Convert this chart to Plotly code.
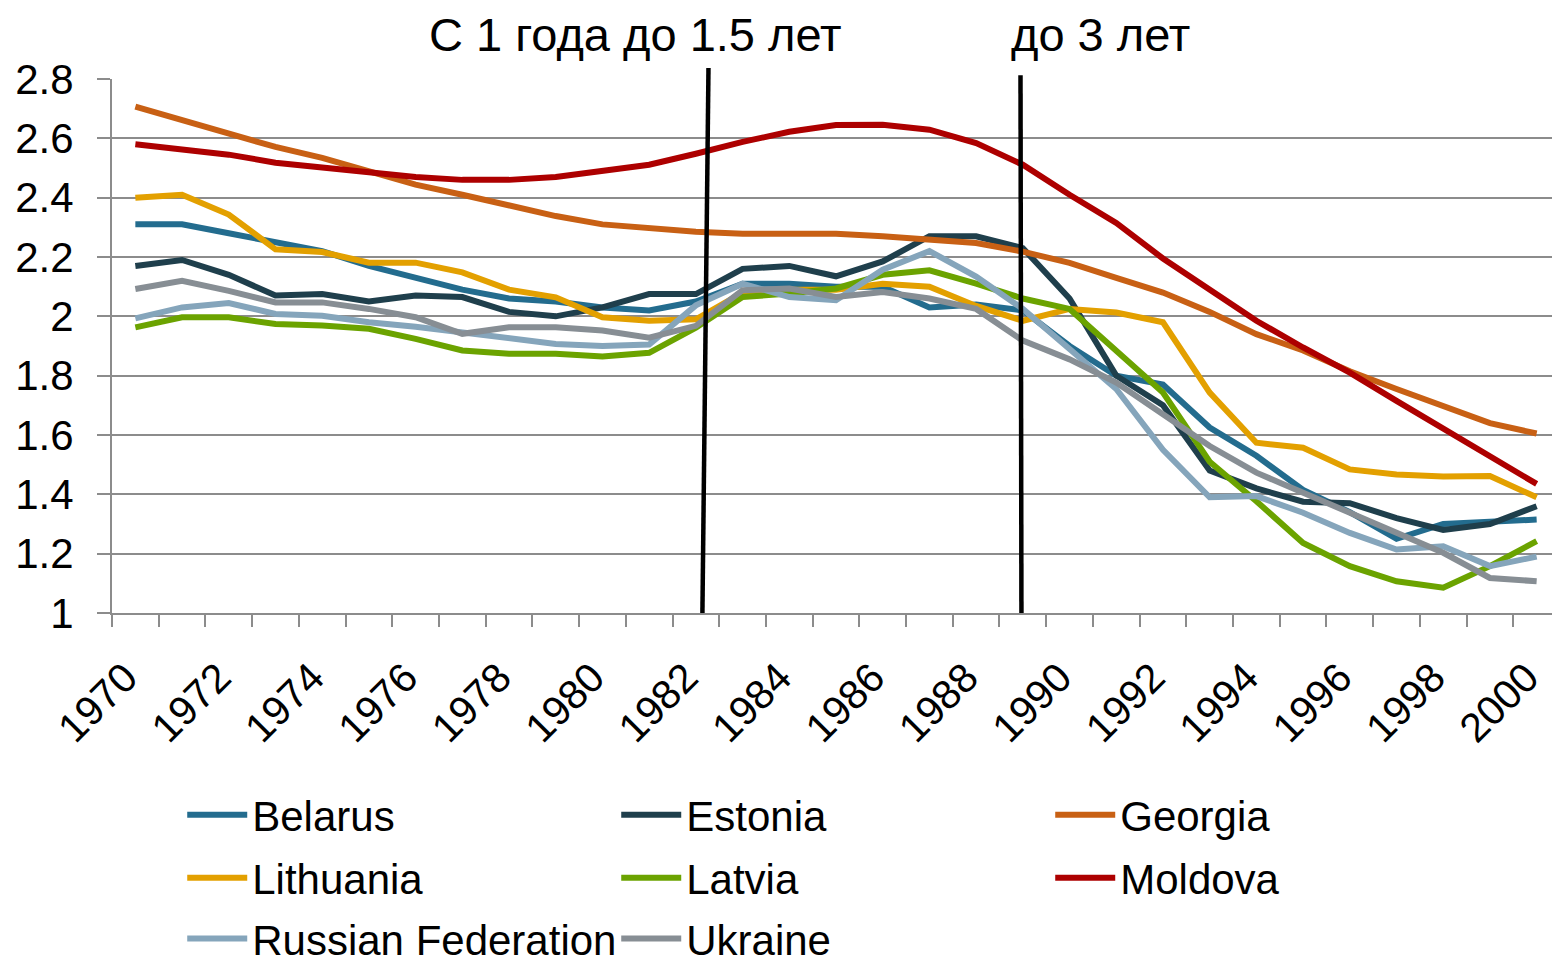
import plotly.graph_objects as go

years = list(range(1970, 2001))

belarus = [2.31, 2.31, 2.28, 2.25, 2.22, 2.17, 2.13, 2.09, 2.06, 2.05, 2.03, 2.02, 2.05, 2.11, 2.11, 2.10,
           2.10, 2.03, 2.04, 2.02, 1.90, 1.80, 1.77, 1.625, 1.53, 1.415, 1.34, 1.25, 1.30, 1.31, 1.315]
estonia = [2.17, 2.19, 2.14, 2.07, 2.075, 2.05, 2.07, 2.065, 2.015, 2.00, 2.03, 2.075, 2.075, 2.16, 2.17, 2.135,
           2.185, 2.27, 2.27, 2.23, 2.06, 1.80, 1.70, 1.48, 1.42, 1.375, 1.37, 1.32, 1.28, 1.30, 1.36]
georgia = [2.707, 2.66, 2.615, 2.571, 2.534, 2.489, 2.444, 2.41, 2.375, 2.338, 2.31, 2.297, 2.285, 2.278, 2.278, 2.278,
           2.27, 2.26, 2.247, 2.218, 2.18, 2.13, 2.08, 2.015, 1.94, 1.885, 1.815, 1.755, 1.70, 1.64, 1.605]
lithuania = [2.40, 2.41, 2.343, 2.226, 2.217, 2.181, 2.181, 2.148, 2.09, 2.064, 1.997, 1.985, 1.99, 2.08, 2.09, 2.09,
             2.11, 2.10, 2.035, 1.985, 2.025, 2.013, 1.98, 1.743, 1.574, 1.557, 1.484, 1.467, 1.46, 1.462, 1.39]
latvia = [1.963, 1.997, 1.997, 1.974, 1.969, 1.958, 1.924, 1.885, 1.874, 1.874, 1.865, 1.877, 1.962, 2.065, 2.077, 2.094,
          2.14, 2.155, 2.11, 2.06, 2.025, 1.884, 1.743, 1.51, 1.377, 1.236, 1.158, 1.107, 1.085, 1.158, 1.242]
moldova = [2.58, 2.564, 2.545, 2.518, 2.502, 2.485, 2.47, 2.46, 2.46, 2.47, 2.488, 2.511, 2.548, 2.588, 2.622, 2.645,
           2.646, 2.629, 2.584, 2.511, 2.41, 2.315, 2.195, 2.09, 1.985, 1.895, 1.81, 1.715, 1.62, 1.525, 1.435]
russia = [1.993, 2.03, 2.045, 2.008, 2.002, 1.98, 1.965, 1.946, 1.924, 1.907, 1.90, 1.905, 2.037, 2.11, 2.065, 2.054,
          2.157, 2.22, 2.134, 2.025, 1.89, 1.755, 1.55, 1.39, 1.394, 1.338, 1.27, 1.214, 1.225, 1.158, 1.19]
ukraine = [2.092, 2.12, 2.086, 2.047, 2.047, 2.025, 1.997, 1.941, 1.963, 1.963, 1.952, 1.928, 1.968, 2.088, 2.094, 2.065,
           2.082, 2.06, 2.025, 1.918, 1.855, 1.777, 1.67, 1.563, 1.473, 1.405, 1.338, 1.27, 1.203, 1.118, 1.107]

series_names = ["Belarus", "Estonia", "Georgia", "Lithuania", "Latvia", "Moldova", "Russian Federation", "Ukraine"]
series_values = [belarus, estonia, georgia, lithuania, latvia, moldova, russia, ukraine]
series_colors = ["#236C8E", "#1F3F4C", "#C86014", "#E3A000", "#6BA300", "#AD0000", "#85A5BB", "#878E94"]
series_legend = ["legend", "legend", "legend", "legend2", "legend2", "legend2", "legend3", "legend3"]

y_ticks = [1, 1.2, 1.4, 1.6, 1.8, 2, 2.2, 2.4, 2.6, 2.8]
y_ticktext = ["1", "1.2", "1.4", "1.6", "1.8", "2", "2.2", "2.4", "2.6", "2.8"]
x_ticks = years[::2]
y_min, y_max = 1.0, 2.8

# reference lines for policy changes (year position at top / bottom, value at top / bottom)
policy_x_top = [1982.27, 1988.95]
policy_x_bottom = [1982.14, 1988.97]
policy_y_top = [2.837, 2.813]
policy_y_bottom = [1.0, 1.0]
policy_labels = ["С 1 года до 1.5 лет", "до 3 лет"]
policy_label_x = [1980.70, 1990.67]

FONT = "Liberation Sans, Arial, sans-serif"
GRID = "#8C8C8C"

fig = go.Figure()
for name, vals, col, lg in zip(series_names, series_values, series_colors, series_legend):
    fig.add_trace(go.Scatter(x=years, y=vals, name=name, mode="lines",
                             line=dict(color=col, width=6), legend=lg))

def to_paper(v):
    return (v - y_min) / (y_max - y_min)

for xt, xb, yt, yb in zip(policy_x_top, policy_x_bottom, policy_y_top, policy_y_bottom):
    fig.add_shape(type="line", xref="x", yref="paper", x0=xb, y0=to_paper(yb), x1=xt, y1=to_paper(yt),
                  line=dict(color="black", width=4.5), layer="above")

for txt, xl in zip(policy_labels, policy_label_x):
    fig.add_annotation(text=txt, xref="x", yref="paper", x=xl, y=1.0835, xanchor="center", yanchor="middle",
                       showarrow=False, font=dict(family=FONT, size=47, color="black"))

legend_common = dict(orientation="h", xanchor="left", yanchor="middle", x=0.0485,
                     font=dict(family=FONT, size=42, color="black"), entrywidth=359, entrywidthmode="pixels",
                     itemwidth=60, bgcolor="rgba(0,0,0,0)")

# the page body has an 8px margin, so the figure is 8px smaller than the window
fig.update_layout(
    width=1552, height=951,
    margin=dict(l=104, r=0, t=71, b=346, autoexpand=False),
    plot_bgcolor="white", paper_bgcolor="white",
    font=dict(family=FONT, size=42, color="black"),
    showlegend=True,
    legend=dict(y=-0.3783, **legend_common),
    legend2=dict(y=-0.4963, **legend_common),
    legend3=dict(y=-0.6100, **legend_common),
    xaxis=dict(range=[1969.5, 2000.5], tickmode="array", tickvals=x_ticks, ticktext=[str(v) for v in x_ticks],
               tickangle=-45, ticks="", showline=True, linecolor=GRID, linewidth=2, showgrid=False, zeroline=False,
               tickfont=dict(family=FONT, size=41, color="black"), ticklabelstandoff=22, ticklabelshift=-10,
               minor=dict(tickmode="array", tickvals=[v - 0.5 for v in years] + [years[-1] + 0.5],
                          ticks="outside", ticklen=12, tickcolor=GRID, tickwidth=2, showgrid=False)),
    yaxis=dict(range=[y_min, y_max], tickmode="array", tickvals=y_ticks, ticktext=y_ticktext,
               ticks="outside", ticklen=13, tickcolor=GRID, tickwidth=2, showline=True, linecolor=GRID,
               linewidth=2, showgrid=True, gridcolor=GRID, gridwidth=2, zeroline=False,
               tickfont=dict(family=FONT, size=42, color="black"), ticklabelstandoff=15),
)

fig.write_html("out.html")
